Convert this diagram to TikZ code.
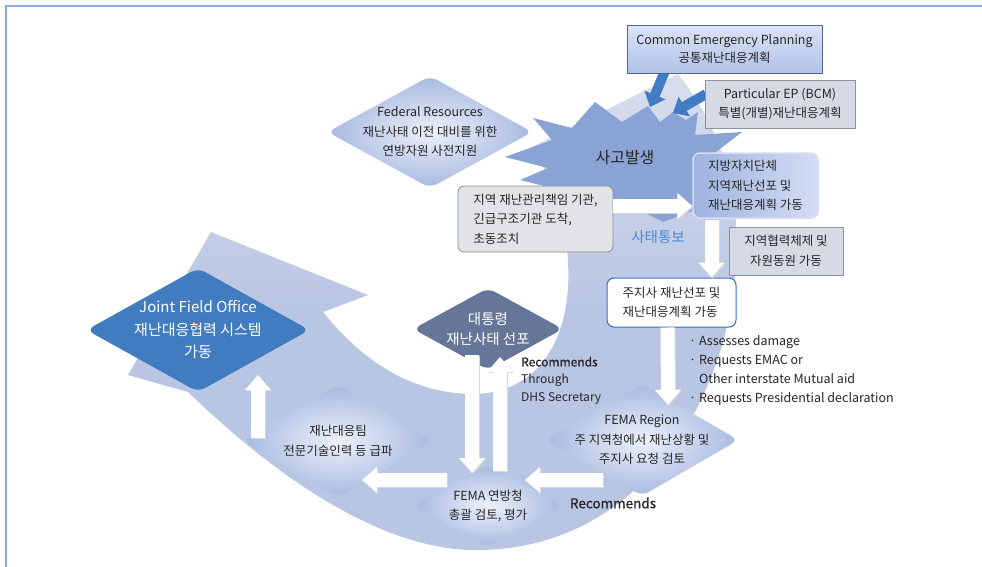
\documentclass[tikz,border=0pt]{standalone}
\usepackage{fontspec}
\setmainfont{Noto Sans CJK KR}
\usetikzlibrary{arrows.meta, shapes.geometric, calc}
\definecolor{FrameBlue}{RGB}{140,170,220}
\definecolor{BandBlue}{RGB}{184,197,227}
\definecolor{BandPale}{RGB}{216,222,237}
\definecolor{BurstBlue}{RGB}{137,163,213}
\definecolor{ArrowBlue}{RGB}{66,124,196}
\definecolor{DiaEdge}{RGB}{168,186,225}
\definecolor{DiaCore}{RGB}{236,240,249}
\definecolor{JfoBlue}{RGB}{64,124,191}
\definecolor{PresSlate}{RGB}{101,118,152}
\definecolor{NoteBlue}{RGB}{76,138,206}
\definecolor{TextGray}{RGB}{38,38,38}
\definecolor{CepTop}{RGB}{218,227,246}
\definecolor{CepBot}{RGB}{176,194,232}
\definecolor{CepEdge}{RGB}{82,102,150}
\definecolor{GreyFill}{RGB}{214,218,228}
\definecolor{GreyEdge}{RGB}{140,145,160}
\definecolor{InitFill}{RGB}{226,227,230}
\definecolor{LocalDark}{RGB}{158,179,222}
\definecolor{LocalLight}{RGB}{212,221,243}
\definecolor{GovEdge}{RGB}{55,110,195}

\tikzset{
  base/.style={text=TextGray, font=\fontsize{12.5}{19.5}\selectfont, align=center, inner sep=0pt},
  diamondbase/.style={diamond, inner sep=0pt, rounded corners=8pt},
  dia/.style={diamondbase, inner color=DiaCore, outer color=DiaEdge},
  warrow/.style={line width=14pt, draw=white, -{Triangle[width=25pt,length=15pt]}},
  wshadow/.style={warrow, draw=black!16, transform canvas={shift={(1.2pt,-1.2pt)}}},
  barrow/.style={line width=10pt, draw=ArrowBlue, -{Triangle[width=22pt,length=13pt]}}
}

\begin{document}
\begin{tikzpicture}[x=1pt,y=-1pt]
  \useasboundingbox (0,0) rectangle (982,567);
  \draw[FrameBlue, line width=2.2pt] (6,567) -- (6,6) -- (982,6);

  % big swoosh
  \shade[top color=BandPale, bottom color=BandBlue, middle color=BandBlue]
    (678,74) .. controls (722,130) and (740,190) .. (736,260)
    .. controls (730,400) and (640,548) .. (480,550)
    .. controls (400,552) and (300,500) .. (188,392)
    -- (128,375) -- (211,232) -- (368,295) -- (323,312)
    .. controls (370,370) and (420,394) .. (475,394)
    .. controls (545,392) and (572,330) .. (568,262)
    .. controls (565,205) and (548,170) .. (530,148)
    -- cycle;

  % starburst
  \fill[BurstBlue] (505,157) -- (552,140) -- (533,118) -- (572,128) -- (595,102)
    -- (622,122) -- (648,106) -- (660,122) -- (673,112) -- (686,120) -- (698,112)
    -- (695,135) -- (742,132) -- (712,155) -- (720,200) -- (690,212) -- (663,222)
    -- (630,205) -- (590,200) -- (560,190) -- (520,180) -- (548,168) -- cycle;
  \node[text=TextGray, font=\fontsize{16}{16}\selectfont] (accident) at (625,158) {사고발생};

  \coordinate (hit1) at (650,107);
  \coordinate (hit2) at (673,113);
  \draw[barrow] (664.5,72) -- (hit1);
  \draw[barrow] (706,94) -- (hit2);

  % plans
  \node[base, font=\fontsize{12.5}{18}\selectfont, top color=CepTop, bottom color=CepBot, draw=CepEdge, line width=0.8pt,
    minimum width=195pt, minimum height=48pt] (cep) at (724.5,49.5) {Common Emergency Planning\\공통재난대응계획};
  \node[base, fill=GreyFill, draw=GreyEdge, line width=0.8pt,
    minimum width=150pt, minimum height=48pt] (pep) at (780,104) {Particular EP (BCM)\\특별(개별)재난대응계획};

  \node[dia, minimum width=205pt, minimum height=112pt,
    label={[base]center:{Federal Resources\\재난사태 이전 대비를 위한\\연방자원 사전지원}}] (fedres) at (430,132) {};

  % local side
  \node[base, align=left, fill=InitFill, draw=black!45, line width=0.8pt, rounded corners=6pt,
    minimum width=155pt, minimum height=66pt] (initial) at (535.5,219) {지역 재난관리책임 기관,\\긴급구조기관 도착,\\초동조치};
  \node[base, align=left, left color=LocalDark, right color=LocalLight, draw=LocalLight, line width=1.5pt,
    rounded corners=7pt, minimum width=125pt, minimum height=65pt] (local) at (755.5,185.5) {지방자치단체\\지역재난선포 및\\재난대응계획 가동};
  \node[text=NoteBlue, font=\fontsize{14.5}{14.5}\selectfont] (notify) at (658,237) {사태통보};
  \node[base, font=\fontsize{12.5}{20.5}\selectfont, fill=GreyFill, draw=GreyEdge, line width=0.8pt,
    minimum width=114pt, minimum height=48pt] (regional) at (786,251) {지역협력체제 및\\자원동원 가동};
  \node[base, align=left, font=\fontsize{12.5}{19}\selectfont, fill=white, draw=GovEdge, line width=1pt,
    rounded corners=7pt, minimum width=129pt, minimum height=49pt] (governor) at (671.5,302.5) {주지사 재난선포 및\\재난대응계획 가동};
  \node[base, align=left, font=\fontsize{12.5}{19}\selectfont, anchor=west] (needs) at (689,370.5)
    {· Assesses damage\\· Requests EMAC or\\\hphantom{· }Other interstate Mutual aid\\· Requests Presidential declaration};

  % federal side
  \node[dia, minimum width=193pt, minimum height=112pt,
    label={[base]center:{FEMA Region\\주 지역청에서 재난상황 및\\주지사 요청 검토}}] (femareg) at (642,440) {};
  \node[dia, minimum width=150pt, minimum height=83pt,
    label={[base]center:{FEMA 연방청\\총괄 검토, 평가}}] (femahq) at (488,506) {};
  \node[dia, minimum width=191pt, minimum height=112pt,
    label={[base]center:{재난대응팀\\전문기술인력 등 급파}}] (team) at (338,441) {};
  \node[diamondbase, fill=JfoBlue, minimum width=223pt, minimum height=124pt,
    label={[base, text=white, font=\fontsize{15}{22.5}\selectfont]center:{Joint Field Office\\재난대응협력 시스템\\가동}}] (jfo) at (198,330) {};
  \node[diamondbase, fill=PresSlate, minimum width=150pt, minimum height=82pt,
    label={[base, text=white, font=\fontsize{14.5}{20}\selectfont]center:{대통령\\재난사태 선포}}] (pres) at (488,329) {};

  \node[base, align=left, font=\fontsize{12}{17.5}\selectfont, anchor=west] (dhs) at (521,380.5)
    {{\addfontfeature{FakeBold=1}Recommends}\\Through\\DHS Secretary};
  \node[base, font=\fontsize{13.5}{13.5}\selectfont\addfontfeature{FakeBold=1}] (recommends) at (613,503) {Recommends};

  % white flow arrows
  \coordinate (r1) at ([yshift=13pt]initial.east);
  \coordinate (d1) at ([xshift=-44pt,yshift=-1pt]local.south);
  \coordinate (d2) at ([xshift=-4pt]governor.south);
  \coordinate (d2e) at ([xshift=26pt,yshift=-21pt]femareg.north);
  \coordinate (h1) at ([xshift=-39pt,yshift=-40pt]femareg.center);
  \coordinate (h1e) at ([xshift=37pt,yshift=26pt]femahq.center);
  \coordinate (h2) at ([xshift=-41pt,yshift=26pt]femahq.center);
  \coordinate (h2e) at ([xshift=24pt,yshift=-39pt]team.center);
  \coordinate (u1) at ([xshift=-80pt,yshift=3pt]team.center);
  \coordinate (u1e) at ([xshift=60pt,yshift=-45pt]jfo.center);
  \coordinate (p1) at ([xshift=-16pt,yshift=-26pt]pres.center);
  \coordinate (p1e) at ([xshift=-16pt,yshift=33pt]femahq.center);
  \coordinate (p2) at ([xshift=12pt,yshift=35pt]femahq.center);
  \coordinate (p2e) at ([xshift=12pt,yshift=-28pt]pres.center);
  \foreach \s in {wshadow,warrow}{
    \draw[\s] (r1) -- (r1 -| local.west);
    \draw[\s] (d1) -- (d1 |- governor.north);
    \draw[\s] (d2) -- (d2e);
    \draw[\s] (h1) -- (h1e);
    \draw[\s] (h2) -- (h2e);
    \draw[\s] (u1) -- (u1e);
    \draw[\s] (p1) -- (p1e);
    \draw[\s] (p2) -- (p2e);
  }
\end{tikzpicture}
\end{document}
